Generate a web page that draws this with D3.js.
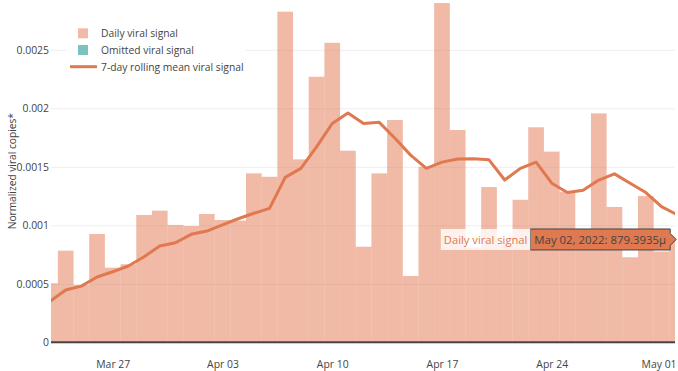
<!DOCTYPE html>
<html>
<head>
<meta charset="utf-8">
<script src="https://cdn.jsdelivr.net/npm/d3@7"></script>
<style>
  html, body { margin: 0; padding: 0; background: #fff; }
  svg { display: block; font-family: "Open Sans", sans-serif; }
</style>
</head>
<body>
<script>
// -----------------------------
// Data
// -----------------------------

const dates = [
  "2022-03-23", "2022-03-24", "2022-03-25", "2022-03-26", "2022-03-27", "2022-03-28", "2022-03-29",
  "2022-03-30", "2022-03-31", "2022-04-01", "2022-04-02", "2022-04-03", "2022-04-04", "2022-04-05",
  "2022-04-06", "2022-04-07", "2022-04-08", "2022-04-09", "2022-04-10", "2022-04-11", "2022-04-12",
  "2022-04-13", "2022-04-14", "2022-04-15", "2022-04-16", "2022-04-17", "2022-04-18", "2022-04-19",
  "2022-04-20", "2022-04-21", "2022-04-22", "2022-04-23", "2022-04-24", "2022-04-25", "2022-04-26",
  "2022-04-27", "2022-04-28", "2022-04-29", "2022-04-30", "2022-05-01", "2022-05-02"
];

// daily normalized viral copies (bars)
const dailySignal = [
  0.000504, 0.000783, 0.000490, 0.000926, 0.000638, 0.000667, 0.001088,
  0.001125, 0.001003, 0.000994, 0.001097, 0.001045, 0.001040, 0.001444,
  0.001415, 0.002826, 0.001564, 0.002270, 0.002560, 0.001638, 0.000817,
  0.001444, 0.001900, 0.000567, 0.001500, 0.002900, 0.001815, 0.000810,
  0.001327, 0.000850, 0.001218, 0.001838, 0.001630, 0.001287, 0.000940,
  0.001957, 0.001157, 0.000727, 0.001250, 0.000776, 0.000879
];

// 7-day rolling mean (line)
const rollingMean = [
  0.000350, 0.000447, 0.000480, 0.000558, 0.000603, 0.000652, 0.000732,
  0.000823, 0.000851, 0.000923, 0.000951, 0.001003, 0.001056, 0.001103,
  0.001145, 0.001410, 0.001487, 0.001670, 0.001870, 0.001960, 0.001870,
  0.001880, 0.001744, 0.001600, 0.001487, 0.001540, 0.001567, 0.001570,
  0.001560, 0.001387, 0.001487, 0.001540, 0.001360, 0.001280, 0.001300,
  0.001387, 0.001440, 0.001360, 0.001280, 0.001160, 0.001090
];

const yTicks = [0, 0.0005, 0.001, 0.0015, 0.002, 0.0025];
const xTicks = ["2022-03-27", "2022-04-03", "2022-04-10", "2022-04-17", "2022-04-24", "2022-05-01"];
const legendLabels = ["Daily viral signal", "Omitted viral signal", "7-day rolling mean viral signal"];
const hoverName = "Daily viral signal";
const hoverText = "May 02, 2022: 879.3935μ";
const hoverIndex = 40;

// -----------------------------
// SVG Setup
// -----------------------------

const WIDTH = 678;
const HEIGHT = 371;

const PLOT_LEFT = 51;
const PLOT_RIGHT = 675;
const PLOT_TOP = 0;
const PLOT_BOTTOM = 342.3;

const BAR_COLOR = "#e3764f";
const LINE_COLOR = "#e07850";
const OMIT_COLOR = "#7dc2c0";
const TEXT_COLOR = "#444";
const TICK_FONT = "10.4px";

const parseDate = d3.timeParse("%Y-%m-%d");
const data = dates.map((d, i) => ({ date: parseDate(d), daily: dailySignal[i], mean: rollingMean[i] }));

const svg = d3.select("body")
  .append("svg")
  .attr("width", WIDTH)
  .attr("height", HEIGHT)
  .attr("viewBox", `0 0 ${WIDTH} ${HEIGHT}`);

// x range starts a little after Mar 23 and ends just before May 02
const x = d3.scaleTime()
  .domain([new Date(2022, 2, 23, 1, 30), new Date(2022, 4, 1, 20, 40)])
  .range([PLOT_LEFT, PLOT_RIGHT]);

const y = d3.scaleLinear()
  .domain([0, 0.002926])
  .range([PLOT_BOTTOM, PLOT_TOP]);

const dayWidth = x(d3.timeDay.offset(data[0].date, 1)) - x(data[0].date);

svg.append("defs")
  .append("clipPath")
  .attr("id", "plot-clip")
  .append("rect")
  .attr("x", PLOT_LEFT)
  .attr("y", PLOT_TOP)
  .attr("width", PLOT_RIGHT - PLOT_LEFT)
  .attr("height", PLOT_BOTTOM - PLOT_TOP);

// -----------------------------
// Axes
// -----------------------------

// y gridlines and labels
const yAxis = d3.axisLeft(y)
  .tickValues(yTicks)
  .tickFormat(d => d === 0 ? "0" : d3.format("~g")(d))
  .tickSize(-(PLOT_RIGHT - PLOT_LEFT))
  .tickPadding(2);

const yAxisG = svg.append("g")
  .attr("transform", `translate(${PLOT_LEFT},0)`)
  .call(yAxis);

yAxisG.select(".domain").remove();
yAxisG.selectAll(".tick line")
  .attr("stroke", "#eee")
  .attr("stroke-width", 1);
yAxisG.selectAll(".tick text")
  .attr("fill", TEXT_COLOR)
  .style("font-size", TICK_FONT)
  .style("font-family", "Open Sans");

// x tick labels only
const xAxis = d3.axisBottom(x)
  .tickValues(xTicks.map(parseDate))
  .tickFormat(d3.timeFormat("%b %d"))
  .tickSize(0)
  .tickPadding(18);

const xAxisG = svg.append("g")
  .attr("transform", `translate(0,${PLOT_BOTTOM})`)
  .call(xAxis);

xAxisG.select(".domain").remove();
xAxisG.selectAll(".tick text")
  .attr("fill", TEXT_COLOR)
  .style("font-size", TICK_FONT)
  .style("font-family", "Open Sans");

// keep the last label inside the picture
xAxisG.selectAll(".tick text")
  .filter((d, i, nodes) => i === nodes.length - 1)
  .each(function(d) {
    const w = this.getComputedTextLength();
    const overflow = x(d) + w / 2 - (WIDTH - 2);
    if (overflow > 0) d3.select(this).attr("x", -overflow);
  });

// y axis title
svg.append("text")
  .attr("transform", `translate(12,${(PLOT_TOP + PLOT_BOTTOM) / 2}) rotate(-90)`)
  .attr("text-anchor", "middle")
  .attr("dominant-baseline", "central")
  .attr("fill", TEXT_COLOR)
  .style("font-size", "10.2px")
  .text("Normalized viral copies*");

// -----------------------------
// Marks
// -----------------------------

const plot = svg.append("g").attr("clip-path", "url(#plot-clip)");

plot.selectAll("rect.bar")
  .data(data)
  .enter()
  .append("rect")
  .attr("class", "bar")
  .attr("x", d => x(d.date) - dayWidth / 2)
  .attr("width", dayWidth)
  .attr("y", d => y(d.daily))
  .attr("height", d => y(0) - y(d.daily))
  .attr("fill", BAR_COLOR)
  .attr("fill-opacity", 0.5);

const line = d3.line()
  .x(d => x(d.date))
  .y(d => y(d.mean));

plot.append("path")
  .datum(data)
  .attr("d", line)
  .attr("fill", "none")
  .attr("stroke", LINE_COLOR)
  .attr("stroke-width", 3)
  .attr("stroke-linejoin", "round");

// zero line
svg.append("line")
  .attr("x1", PLOT_LEFT)
  .attr("x2", PLOT_RIGHT)
  .attr("y1", y(0))
  .attr("y2", y(0))
  .attr("stroke", TEXT_COLOR)
  .attr("stroke-width", 2);

// -----------------------------
// Legend
// -----------------------------

const legend = svg.append("g").attr("id", "legend");

legend.append("rect")
  .attr("x", 66)
  .attr("y", 20)
  .attr("width", 180)
  .attr("height", 56)
  .attr("fill", "#fff");

const legendRows = [33.3, 50, 66.7];

legend.append("rect")
  .attr("x", 78).attr("y", legendRows[0] - 5)
  .attr("width", 10).attr("height", 10)
  .attr("fill", BAR_COLOR).attr("fill-opacity", 0.5);

legend.append("rect")
  .attr("x", 78).attr("y", legendRows[1] - 5)
  .attr("width", 10).attr("height", 10)
  .attr("fill", OMIT_COLOR);

legend.append("line")
  .attr("x1", 70).attr("x2", 97)
  .attr("y1", legendRows[2]).attr("y2", legendRows[2])
  .attr("stroke", LINE_COLOR)
  .attr("stroke-width", 3);

legend.selectAll("text")
  .data(legendLabels)
  .enter()
  .append("text")
  .attr("x", 101)
  .attr("y", (d, i) => legendRows[i])
  .attr("dominant-baseline", "central")
  .attr("fill", TEXT_COLOR)
  .style("font-size", "10.3px")
  .text(d => d);

// -----------------------------
// Hover label
// -----------------------------

const hx = x(data[hoverIndex].date) - 1;
const hy = y(data[hoverIndex].daily);
const hover = svg.append("g").attr("id", "hover");

const valueText = hover.append("text")
  .attr("y", hy)
  .attr("dominant-baseline", "central")
  .attr("fill", TEXT_COLOR)
  .style("font-size", "11.4px")
  .text(hoverText);

const valueW = valueText.node().getComputedTextLength();
const boxRight = hx - 6;
const boxLeft = boxRight - valueW - 8;
valueText.attr("x", boxLeft + 4);

hover.insert("path", "text")
  .attr("d", `M${hx},${hy} L${boxRight},${hy - 6} L${boxRight},${hy - 10.5} L${boxLeft},${hy - 10.5}
    L${boxLeft},${hy + 10.5} L${boxRight},${hy + 10.5} L${boxRight},${hy + 6} Z`)
  .attr("fill", LINE_COLOR)
  .attr("stroke", TEXT_COLOR)
  .attr("stroke-width", 1);

const nameText = hover.append("text")
  .attr("x", boxLeft - 3)
  .attr("y", hy)
  .attr("text-anchor", "end")
  .attr("dominant-baseline", "central")
  .attr("fill", LINE_COLOR)
  .style("font-size", "11.2px")
  .text(hoverName);

const nameW = nameText.node().getComputedTextLength();
hover.insert("rect", "text")
  .attr("x", boxLeft - nameW - 6)
  .attr("y", hy - 10.5)
  .attr("width", nameW + 6)
  .attr("height", 21)
  .attr("fill", "#fff")
  .attr("fill-opacity", 0.8);
</script>
</body>
</html>
